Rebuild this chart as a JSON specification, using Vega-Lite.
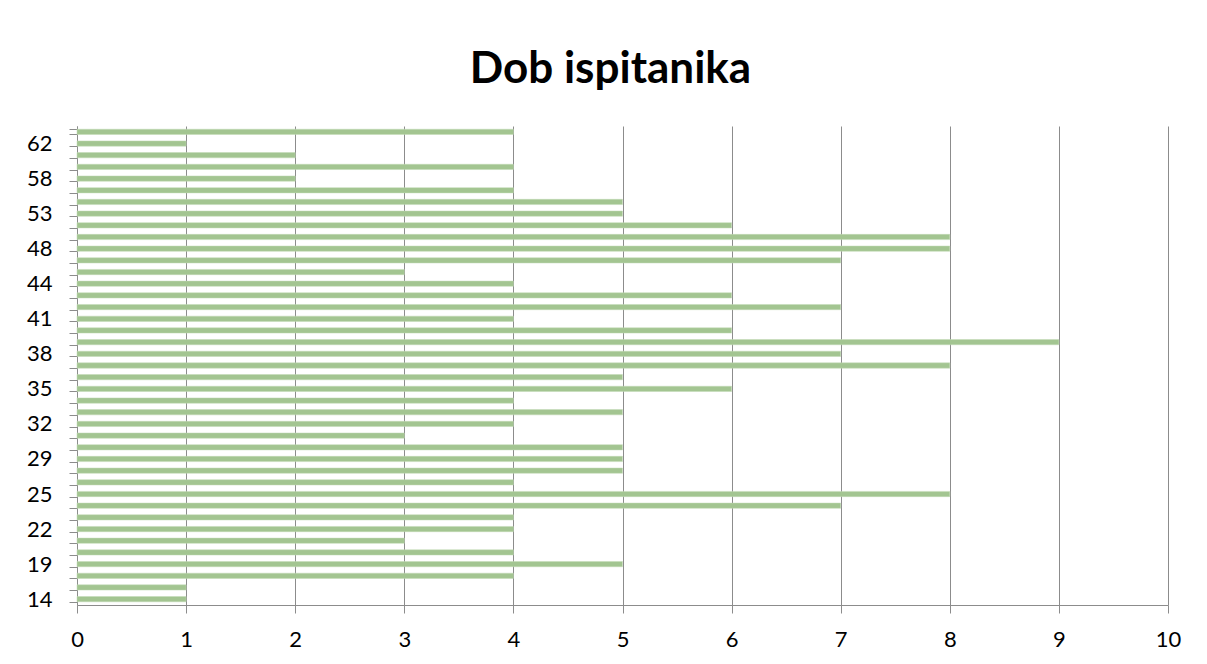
{
  "$schema": "https://vega.github.io/schema/vega-lite/v6.json",
  "autosize": {"type": "none"},
  "width": 1091,
  "height": 479,
  "padding": {"left": 77, "top": 126, "right": 39, "bottom": 59},
  "background": "white",
  "title": {
    "text": "Dob ispitanika",
    "font": "Lato",
    "fontSize": 44,
    "fontWeight": "bold",
    "color": "#000000",
    "offset": 23,
    "dx": -12
  },
  "data": {
    "values": [
      {"dob": 14, "broj": 1}, {"dob": 17, "broj": 1}, {"dob": 18, "broj": 4}, {"dob": 19, "broj": 5},
      {"dob": 20, "broj": 4}, {"dob": 21, "broj": 3}, {"dob": 22, "broj": 4}, {"dob": 23, "broj": 4},
      {"dob": 24, "broj": 7}, {"dob": 25, "broj": 8}, {"dob": 27, "broj": 4}, {"dob": 28, "broj": 5},
      {"dob": 29, "broj": 5}, {"dob": 30, "broj": 5}, {"dob": 31, "broj": 3}, {"dob": 32, "broj": 4},
      {"dob": 33, "broj": 5}, {"dob": 34, "broj": 4}, {"dob": 35, "broj": 6}, {"dob": 36, "broj": 5},
      {"dob": 37, "broj": 8}, {"dob": 38, "broj": 7}, {"dob": 39, "broj": 9}, {"dob": 40, "broj": 6},
      {"dob": 41, "broj": 4}, {"dob": 42, "broj": 7}, {"dob": 43, "broj": 6}, {"dob": 44, "broj": 4},
      {"dob": 45, "broj": 3}, {"dob": 46, "broj": 7}, {"dob": 48, "broj": 8}, {"dob": 50, "broj": 8},
      {"dob": 51, "broj": 6}, {"dob": 53, "broj": 5}, {"dob": 55, "broj": 5}, {"dob": 56, "broj": 4},
      {"dob": 58, "broj": 2}, {"dob": 59, "broj": 4}, {"dob": 60, "broj": 2}, {"dob": 62, "broj": 1},
      {"dob": 64, "broj": 4}
    ]
  },
  "mark": {"type": "bar", "color": "#a3c591", "stroke": "#c3dab6", "strokeWidth": 0.5},
  "encoding": {
    "y": {
      "field": "dob",
      "type": "ordinal",
      "sort": "descending",
      "scale": {"paddingInner": 0.55, "paddingOuter": 0.275},
      "axis": {
        "title": null,
        "tickBand": "extent",
        "tickSize": 8,
        "tickColor": "#8c8c8c",
        "domainColor": "#8c8c8c",
        "labelFont": "Lato",
        "labelFontSize": 22,
        "labelColor": "#000000",
        "labelPadding": 17,
        "labelAngle": 0,
        "labelExpr": "indexof([14,19,22,25,29,32,35,38,41,44,48,53,58,62], datum.value) >= 0 ? datum.label : ''",
        "grid": false
      }
    },
    "x": {
      "field": "broj",
      "type": "quantitative",
      "scale": {"domain": [0, 10], "nice": false},
      "axis": {
        "title": null,
        "values": [0, 1, 2, 3, 4, 5, 6, 7, 8, 9, 10],
        "grid": true,
        "gridColor": "#8c8c8c",
        "gridWidth": 1,
        "gridOpacity": 1,
        "tickSize": 8,
        "tickColor": "#8c8c8c",
        "domainColor": "#8c8c8c",
        "labelFont": "Lato",
        "labelFontSize": 22,
        "labelColor": "#000000",
        "labelPadding": 16,
        "labelFlush": false
      }
    }
  },
  "config": {"view": {"stroke": null}}
}
